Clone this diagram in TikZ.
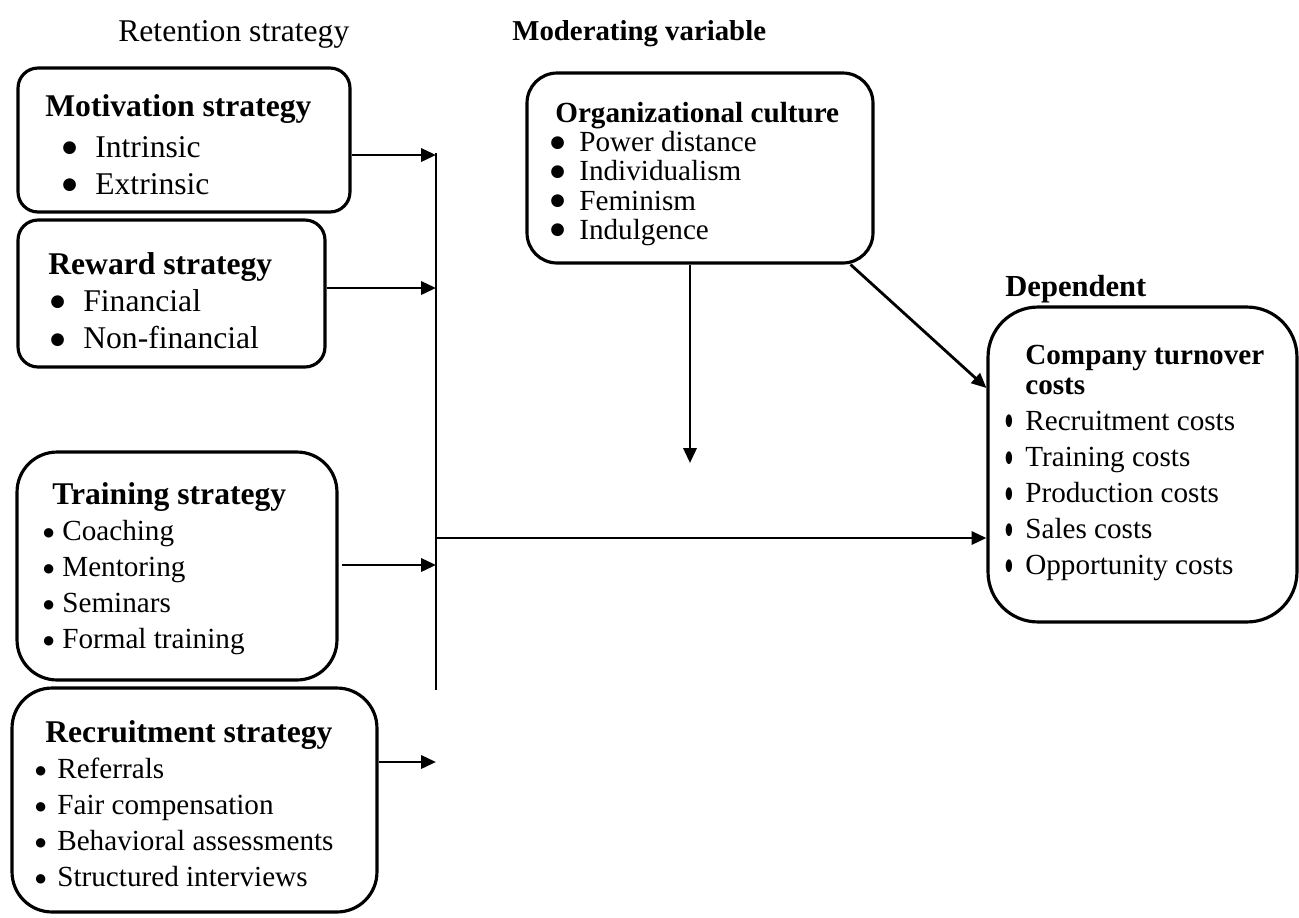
\documentclass[tikz,border=0pt]{standalone}
\usepackage{fontspec}
\setmainfont{Liberation Serif}
\newfontfamily\dotfont{DejaVu Sans}
\usepackage{tikz}
\usetikzlibrary{arrows.meta, positioning}
\newcommand{\bigdot}{{\dotfont\fontsize{9.5}{10}\selectfont\raisebox{2.6pt}{●}}}
\newcommand{\smalldot}{{\dotfont\fontsize{7}{8}\selectfont\raisebox{2.4pt}{●}}}
\newcommand{\bitem}[3]{\hspace*{#1}\makebox[#2][l]{\bigdot}#3}
\newcommand{\sitem}[3]{\hspace*{#1}\makebox[#2][l]{\smalldot}#3}
\newcommand{\titem}[1]{\makebox[4mm][l]{\scalebox{0.5}[1]{\bigdot}}#1}
\tikzset{
    box/.style={draw, rounded corners=#1, line width=1.8pt},
    box/.default=0.4cm,
    txt/.style={inner sep=0pt, anchor=north west, align=left, font=\fontsize{16.6}{20.5}\selectfont},
    bigtxt/.style={txt, font=\fontsize{18}{21.2}\selectfont},
    arr/.style={-{Triangle[length=8.5pt, width=7.5pt]}, line width=1.6pt},
    spine/.style={-, line width=1.6pt},
}
\begin{document}
\begin{tikzpicture}[x=0.02cm, y=-0.02cm]
    \useasboundingbox (0,0) rectangle (1299,917);

    % headings
    \node[bigtxt] (ret) at (118,20) {Retention strategy};
    \node[txt, font=\fontsize{16.4}{20}\selectfont\bfseries] (mod) at (512,20) {Moderating variable};
    \node[txt, font=\fontsize{17.4}{20}\selectfont\bfseries] (dep) at (1005,275) {Dependent};

    % boxes
    \node[box, minimum width=6.64cm, minimum height=2.88cm] (mot) at (184,140) {};
    \node[box, minimum width=6.14cm, minimum height=2.94cm] (rew) at (171.5,293.5) {};
    \node[box=0.8cm, minimum width=6.4cm, minimum height=4.56cm] (trn) at (177,566) {};
    \node[box=0.8cm, minimum width=7.3cm, minimum height=4.48cm] (rec) at (194.5,800) {};
    \node[box=0.6cm, minimum width=6.92cm, minimum height=3.8cm] (org) at (700,168) {};
    \node[box=1cm, minimum width=6.18cm, minimum height=6.3cm] (cmp) at (1142.5,464.5) {};

    \node[bigtxt] (motT) at (45,94) {\textbf{Motivation strategy}\\[2pt]
        \bitem{3.4mm}{6.6mm}{Intrinsic}\\
        \bitem{3.4mm}{6.6mm}{Extrinsic}};
    \node[bigtxt] (rewT) at (48,252) {\textbf{Reward strategy}\\
        \bitem{0.4mm}{6.6mm}{Financial}\\
        \bitem{0.4mm}{6.6mm}{Non-financial}};
    \node[txt] (trnT) at (43,482) {\hspace*{1.8mm}{\fontsize{18}{21}\selectfont\bfseries Training strategy}\\
        \sitem{0mm}{3.8mm}{Coaching}\\
        \sitem{0mm}{3.8mm}{Mentoring}\\
        \sitem{0mm}{3.8mm}{Seminars}\\
        \sitem{0mm}{3.8mm}{Formal training}};
    \node[txt] (recT) at (35,720) {\hspace*{2mm}{\fontsize{18}{21}\selectfont\bfseries Recruitment strategy}\\
        \sitem{0mm}{4.4mm}{Referrals}\\
        \sitem{0mm}{4.4mm}{Fair compensation}\\
        \sitem{0mm}{4.4mm}{Behavioral assessments}\\
        \sitem{0mm}{4.4mm}{Structured interviews}};
    \node[txt, font=\fontsize{16.6}{16.6}\selectfont] (orgT) at (550,102) {\hspace*{1mm}\textbf{Organizational culture}\\
        \bitem{0mm}{5.8mm}{Power distance}\\
        \bitem{0mm}{5.8mm}{Individualism}\\
        \bitem{0mm}{5.8mm}{Feminism}\\
        \bitem{0mm}{5.8mm}{Indulgence}};
    \node[txt] (cmpT) at (1005,345) {\hspace*{4mm}\textbf{Company turnover}\\[-3.5pt]
        \hspace*{4mm}\textbf{costs}\\
        \titem{Recruitment costs}\\
        \titem{Training costs}\\
        \titem{Production costs}\\
        \titem{Sales costs}\\
        \titem{Opportunity costs}};

    % spine and arrows
    \coordinate (sTop) at (436,153);
    \coordinate (sBot) at (436,690);
    \coordinate (jMot) at (436,155);
    \coordinate (jRew) at (436,288);
    \coordinate (jTrn) at (436,565);
    \coordinate (jRec) at (436,762);
    \coordinate (jMain) at (436,538);
    \coordinate (mEnd) at (690,463);

    \draw[spine] (sTop) -- (sBot);
    \draw[arr] (jMot -| mot.east) -- (jMot);
    \draw[arr] (jRew -| rew.east) -- (jRew);
    \draw[arr] ([xshift=0.06cm]jTrn -| trn.east) -- (jTrn);
    \draw[arr] (jRec -| rec.east) -- (jRec);
    \draw[arr] (jMain) -- (jMain -| cmp.west);
    \draw[arr] (mEnd |- org.south) -- (mEnd);
    \draw[arr] ([xshift=-0.48cm]org.south east) -- ([yshift=1.53cm]cmp.west);
\end{tikzpicture}
\end{document}
